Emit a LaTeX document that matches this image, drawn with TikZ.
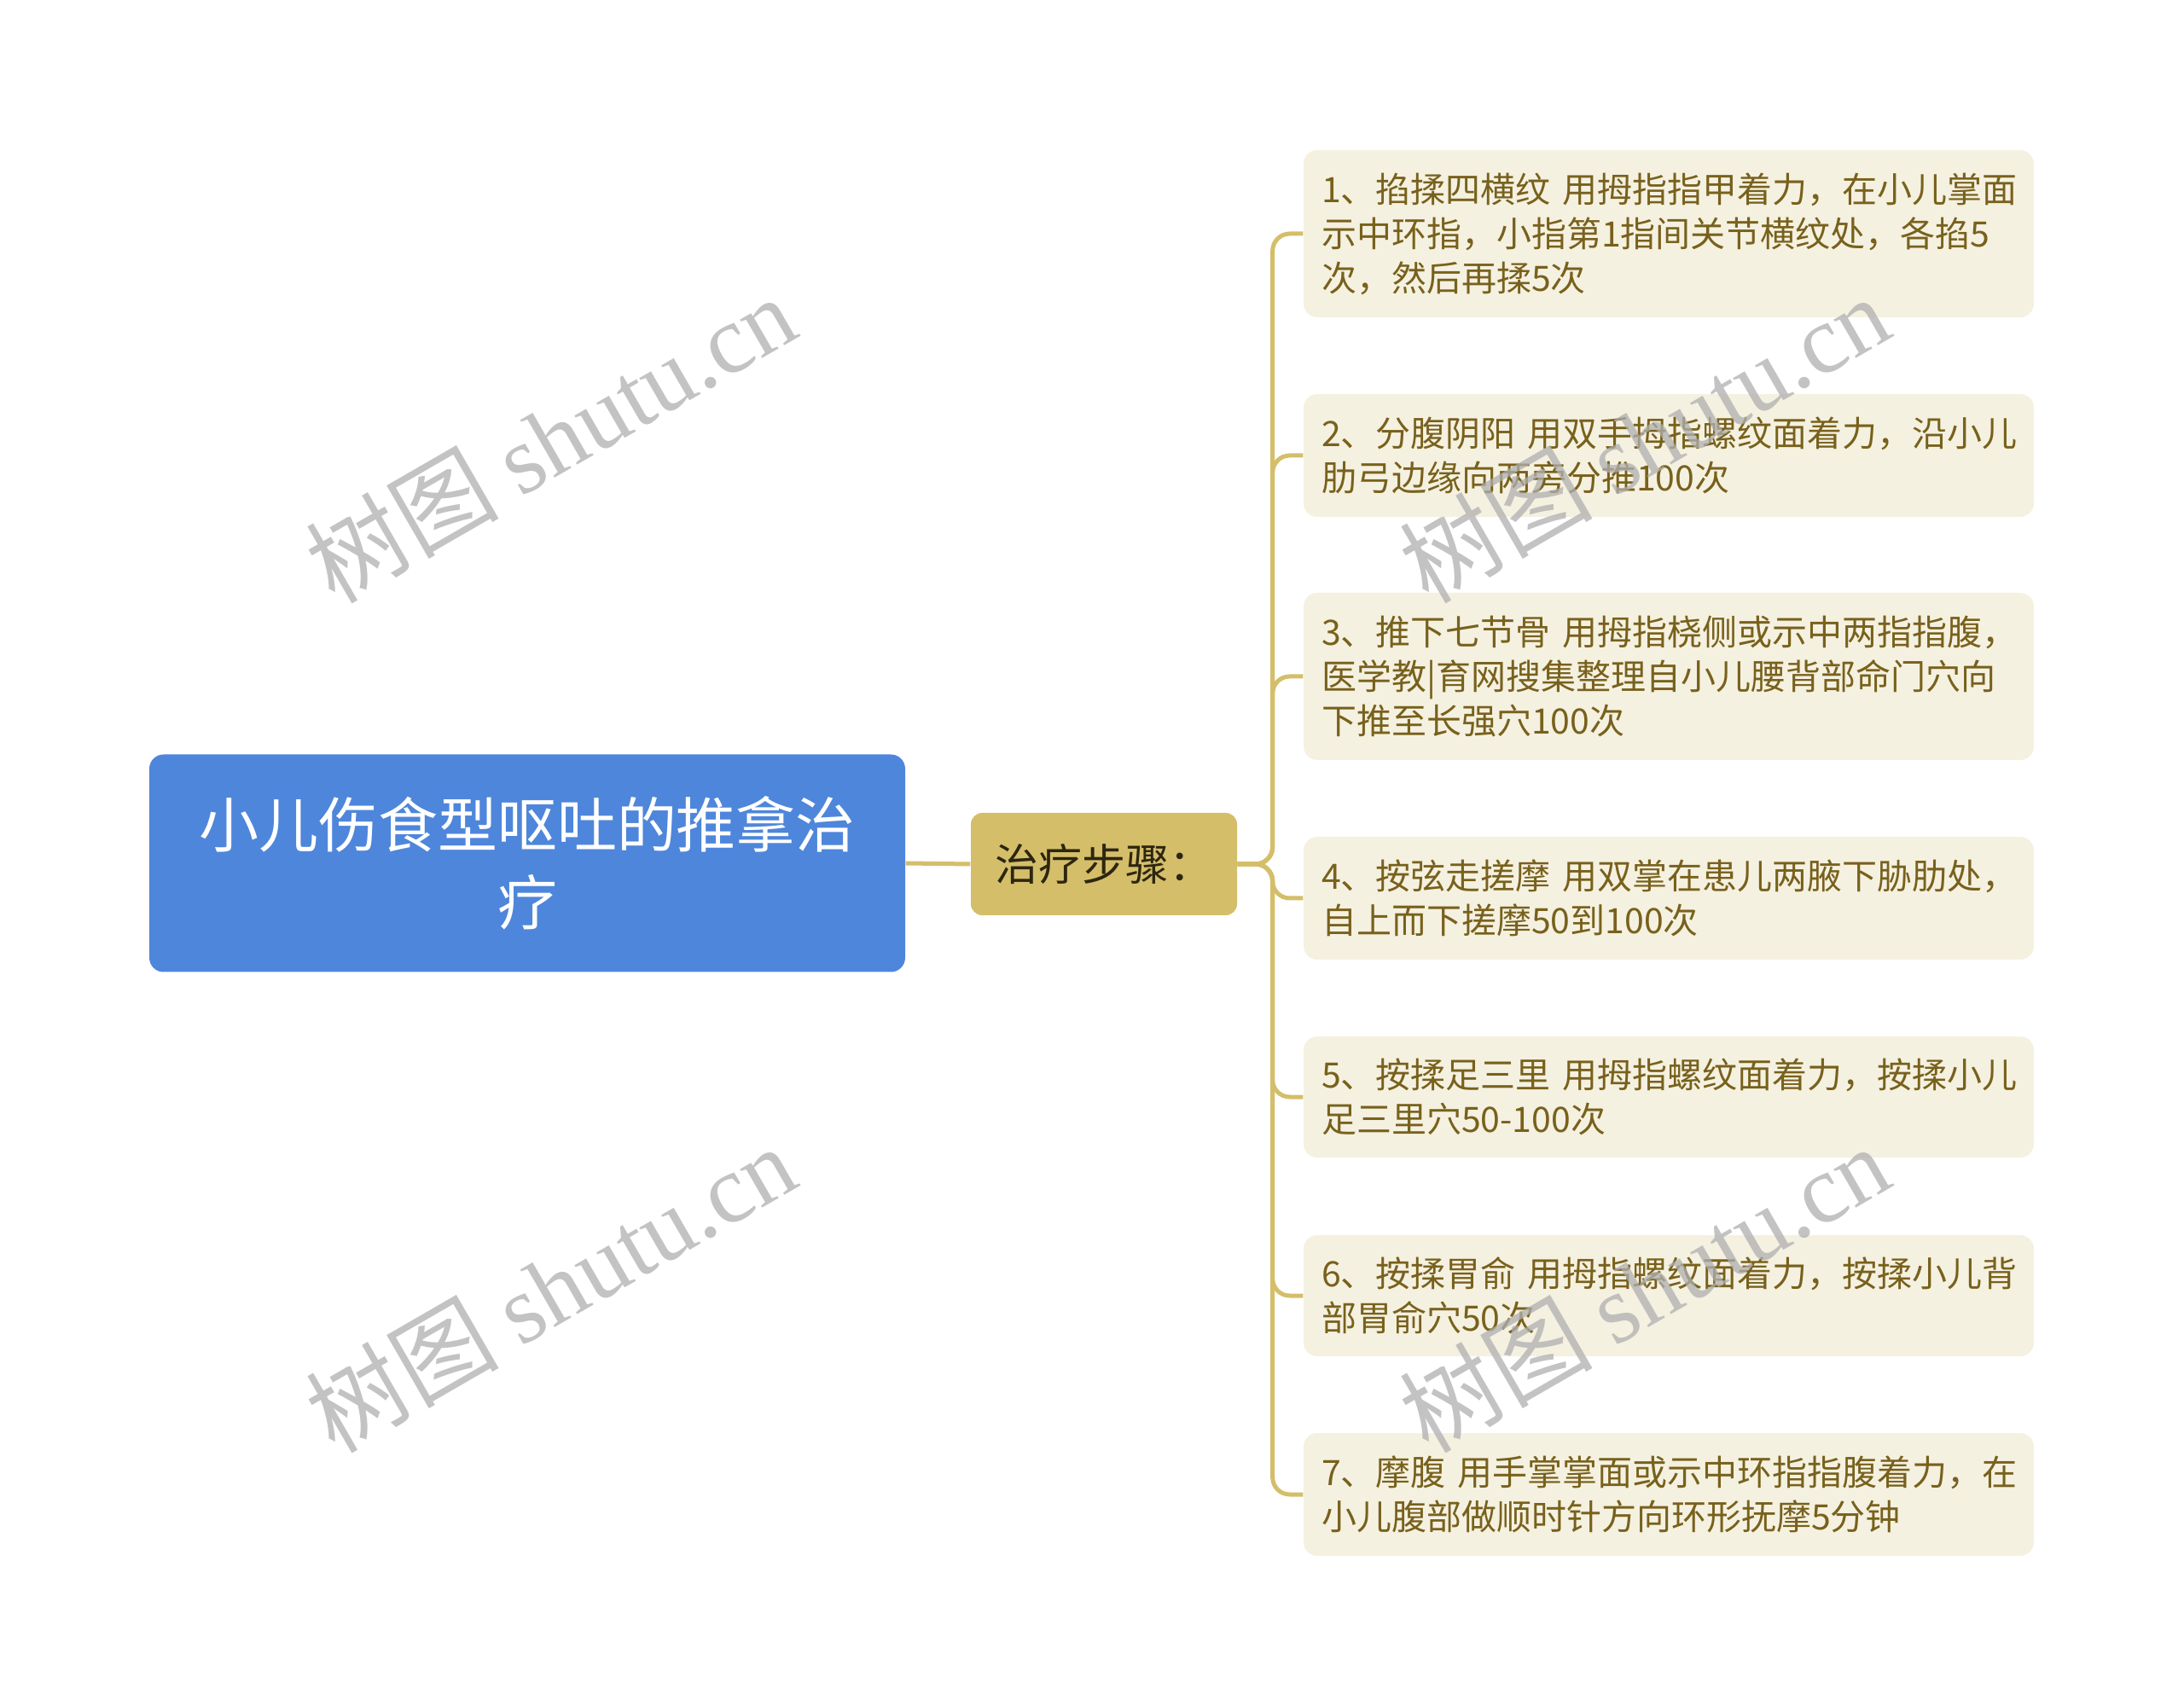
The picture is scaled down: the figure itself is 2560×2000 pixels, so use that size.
\documentclass[tikz,border=0pt]{standalone}
\usepackage{fontspec}
\setmainfont{Noto Sans CJK SC}
\newfontfamily\wmserif{Liberation Serif}
\usepackage{tikz}
\usetikzlibrary{positioning}

\definecolor{rootblue}{RGB}{78,134,219}
\definecolor{gold}{RGB}{212,190,106}
\definecolor{leaffill}{RGB}{245,241,225}
\definecolor{leaftext}{RGB}{120,97,28}
\definecolor{midtext}{RGB}{45,38,15}
\definecolor{wmgray}{RGB}{175,175,175}

\begin{document}
\begin{tikzpicture}[x=0.3pt,y=-0.3pt,
  rootbox/.style={fill=rootblue,rounded corners=5pt,text=white,align=center,
    minimum width=265.8pt,minimum height=76.5pt,inner sep=0pt,
    font=\fontsize{21pt}{27.4pt}\selectfont},
  midbox/.style={fill=gold,rounded corners=4pt,text=midtext,
    minimum width=93.6pt,minimum height=36pt,inner sep=0pt,
    font=\fontsize{15.3pt}{18pt}\selectfont},
  leafbox/.style={fill=leaffill,rounded corners=4.8pt,text=leaftext,align=left,
    text width=244.2pt,inner xsep=6.3pt,inner ysep=2pt,
    font=\fontsize{12.3pt}{15.6pt}\selectfont},
  link/.style={draw=gold,line width=1.5pt,rounded corners=6pt},
  wmark/.style={text=wmgray,text opacity=0.75,rotate=30,
    font=\fontsize{34pt}{38pt}\selectfont}]
\useasboundingbox (0,0) rectangle (2560,2000);

% Root
\node[rootbox] (root) at (618,1012) {小儿伤食型呕吐的推拿治\\疗};
% Branch
\node[midbox] (steps) at (1294,1013) {治疗步骤：};

% Leaves
\node[leafbox,minimum height=58.8pt] (s1) at (1956,274) {1、掐揉四横纹~用拇指指甲着力，在小儿掌面\\示中环指，小指第1指间关节横纹处，各掐5\\次，然后再揉5次};
\node[leafbox,minimum height=43.2pt] (s2) at (1956,534) {2、分腹阴阳~用双手拇指螺纹面着力，沿小儿\\肋弓边缘向两旁分推100次};
\node[leafbox,minimum height=58.8pt] (s3) at (1956,793) {3、推下七节骨~用拇指桡侧或示中两指指腹，\\医学教|育网搜集整理自小儿腰背部命门穴向\\下推至长强穴100次};
\node[leafbox,minimum height=43.2pt] (s4) at (1956,1053) {4、按弦走搓摩~用双掌在患儿两腋下胁肋处，\\自上而下搓摩50到100次};
\node[leafbox,minimum height=42.6pt] (s5) at (1956,1286) {5、按揉足三里~用拇指螺纹面着力，按揉小儿\\足三里穴50-100次};
\node[leafbox,minimum height=42.6pt] (s6) at (1956,1519) {6、按揉胃俞~用拇指螺纹面着力，按揉小儿背\\部胃俞穴50次};
\node[leafbox,minimum height=43.2pt] (s7) at (1956,1752) {7、摩腹~用手掌掌面或示中环指指腹着力，在\\小儿腹部做顺时针方向环形抚摩5分钟};

% Connectors
\draw[link] (root.east) -- (steps.west);
\foreach \s in {s1,s2,s3,s4,s5,s6,s7}
  \draw[link] (steps.east) -- ++(41,0) |- (\s.west);

% Watermarks
\node[wmark] (wm1) at (645,514) {树图 {\wmserif shutu.cn}};
\node[wmark] (wm2) at (1927,514) {树图 {\wmserif shutu.cn}};
\node[wmark] (wm3) at (645,1510) {树图 {\wmserif shutu.cn}};
\node[wmark] (wm4) at (1927,1510) {树图 {\wmserif shutu.cn}};
\end{tikzpicture}
\end{document}
